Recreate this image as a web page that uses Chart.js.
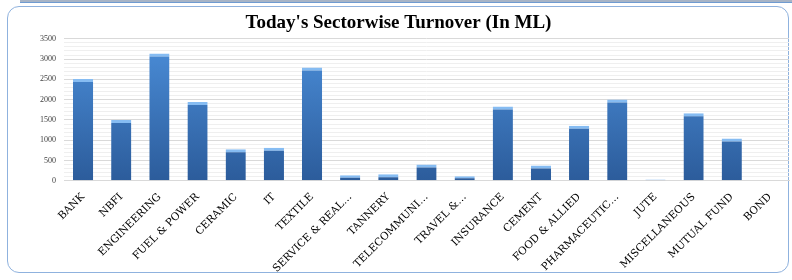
<!DOCTYPE html>
<html>
<head>
<meta charset="utf-8">
<script src="https://cdn.jsdelivr.net/npm/chart.js@4/dist/chart.umd.min.js"></script>
<style>
  html, body { margin: 0; padding: 0; background: #fff; }
  body { width: 792px; height: 280px; position: relative; overflow: hidden; }
  #topband { position: absolute; left: 20px; top: 0; width: 772px; height: 2px; background: #a7b4c6; border-bottom: 1px solid #6f9bd1; }
  #frame { position: absolute; left: 7px; top: 6px; width: 782px; height: 267px; border: 1px solid #8fb2de; border-radius: 12px; box-sizing: border-box; }
  #wrap { position: absolute; left: 8px; top: 7px; width: 784px; height: 270px; }
</style>
</head>
<body>
<div id="topband"></div>
<div id="frame"></div>
<div id="wrap"><canvas id="turnoverChart"></canvas></div>
<script>
// Sectorwise turnover, values
const sectors = ['BANK', 'NBFI', 'ENGINEERING', 'FUEL & POWER', 'CERAMIC', 'IT', 'TEXTILE',
    'SERVICE & REAL\u2026', 'TANNERY', 'TELECOMMUNI\u2026', 'TRAVEL &\u2026', 'INSURANCE', 'CEMENT',
    'FOOD & ALLIED', 'PHARMACEUTIC\u2026', 'JUTE', 'MISCELLANEOUS', 'MUTUAL FUND', 'BOND'];
const turnover = [2510, 1500, 3140, 1940, 775, 815, 2795, 135, 160, 400, 110, 1830, 375,
    1360, 2005, 30, 1665, 1040, 0];
const yMax = 3500;
const yLabelStep = 500;

// Vertical blue gradient for the bars
function barFill(context) {
    const chart = context.chart;
    const area = chart.chartArea;
    if (!area) return '#3a74bd';
    const g = chart.ctx.createLinearGradient(0, area.top, 0, area.bottom);
    g.addColorStop(0, '#4b8ed9');
    g.addColorStop(1, '#2c5c9b');
    return g;
}

const ctx = document.getElementById('turnoverChart').getContext('2d');
const turnoverChart = new Chart(ctx, {
    type: 'bar',
    data: {
        labels: sectors,
        datasets: [{
            label: 'Turnover (In ML)',
            data: turnover,
            backgroundColor: barFill,
            borderColor: '#86bcf2',
            borderWidth: { top: 3, left: 0, right: 0, bottom: 0 },
            barPercentage: 0.53,
            categoryPercentage: 1.0
        }]
    },
    options: {
        responsive: true,
        maintainAspectRatio: false,
        animation: false,
        layout: { padding: { left: 0, right: 3, top: 0, bottom: 0 } },
        plugins: {
            legend: { display: false },
            tooltip: { enabled: false },
            title: {
                display: true,
                text: "Today's Sectorwise Turnover (In ML)",
                color: '#000',
                font: { family: 'Liberation Serif', size: 19, weight: 'bold' },
                padding: { top: 5, bottom: 4 }
            }
        },
        scales: {
            x: {
                grid: { display: false },
                border: { color: '#d9d9d9' },
                ticks: {
                    color: '#000',
                    font: { family: 'DejaVu Serif', size: 10.5 },
                    maxRotation: 45,
                    minRotation: 45,
                    autoSkip: false,
                    padding: 2
                }
            },
            y: {
                min: 0,
                max: yMax,
                border: { display: false },
                afterFit: scale => { scale.width = 56; },
                grid: {
                    drawTicks: false,
                    color: c => (c.tick.value % yLabelStep === 0 ? '#d9d9d9' : '#efefef')
                },
                ticks: {
                    stepSize: 100,
                    autoSkip: false,
                    padding: 8,
                    color: '#404040',
                    font: { family: 'Liberation Serif', size: 8 },
                    callback: v => (v % yLabelStep === 0 ? v : '')
                }
            }
        }
    }
});
</script>
</body>
</html>
